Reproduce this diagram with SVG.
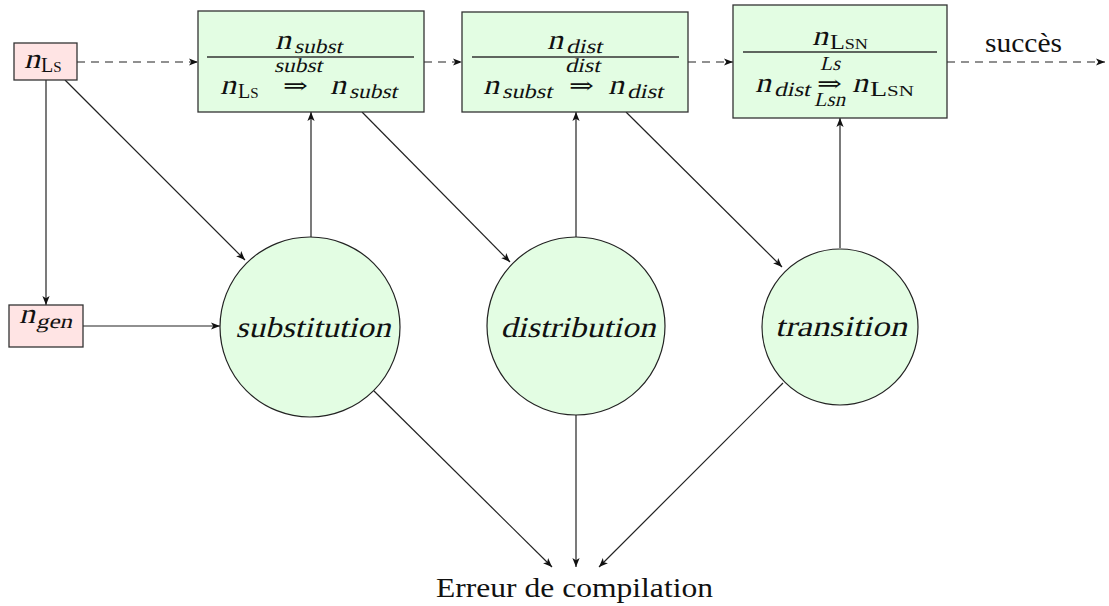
<svg xmlns="http://www.w3.org/2000/svg" width="1109" height="606" viewBox="0 0 1109 606">
<style>
.box{fill:#e3fde3;stroke:#333;stroke-width:1.3}
.pink{fill:#ffe4e4;stroke:#333;stroke-width:1.3}
.circ{fill:#e3fde3;stroke:#222;stroke-width:1.2}
.rule{stroke:#333;stroke-width:1.3}
.m{font-family:"Liberation Serif",serif;font-size:28px;fill:#111}
.s{font-family:"Liberation Serif",serif;font-size:20px;fill:#111}
.sc{font-family:"Liberation Serif",serif;font-size:20px;fill:#111}
.scs{font-family:"Liberation Serif",serif;font-size:15px;fill:#111}
.arr{font-family:"DejaVu Serif",serif;font-size:22px;fill:#111}
.t{font-family:"Liberation Serif",serif;font-size:27px;fill:#111}
.ci{font-family:"Liberation Serif",serif;font-size:29px;fill:#111}
.edge{stroke:#222;stroke-width:1.2;fill:none;marker-end:url(#ah)}
.dash{stroke:#222;stroke-width:1.2;fill:none;stroke-dasharray:8 6;marker-end:url(#ah)}
</style>
<defs>
<marker id="ah" viewBox="0 0 10 8" refX="10" refY="4" markerWidth="9" markerHeight="7.2" markerUnits="userSpaceOnUse" orient="auto">
<path d="M0,0 L10,4 L0,8 L2.5,4 z" fill="#111"/>
</marker>
</defs>
<rect width="1109" height="606" fill="#fff"/>

<g id="connectors">
<line class="dash" x1="77" y1="62" x2="198" y2="62"/>
<line class="dash" x1="424" y1="62" x2="462" y2="62"/>
<line class="dash" x1="688" y1="62" x2="733" y2="62"/>
<line class="dash" x1="947" y1="62" x2="1105" y2="62"/>
<line class="edge" x1="46" y1="80" x2="46" y2="305"/>
<line class="edge" x1="65" y1="80" x2="245" y2="260"/>
<line class="edge" x1="83" y1="326" x2="220" y2="326"/>
<line class="edge" x1="311" y1="237" x2="311" y2="112"/>
<line class="edge" x1="362" y1="112" x2="510" y2="262"/>
<line class="edge" x1="576" y1="237" x2="576" y2="112"/>
<line class="edge" x1="626" y1="112" x2="782" y2="267"/>
<line class="edge" x1="840" y1="248" x2="840" y2="118"/>
<line class="edge" x1="374" y1="391" x2="552" y2="567"/>
<line class="edge" x1="576" y1="415" x2="576" y2="567"/>
<line class="edge" x1="783" y1="383" x2="599" y2="567"/>
</g>

<g id="nLs">
<rect class="pink" x="14" y="43" width="63" height="37"/>
<text class="m" transform="translate(24,68) skewX(-14)" textLength="16" lengthAdjust="spacingAndGlyphs">n</text>
<text class="sc" x="41" y="72">L<tspan class="scs">S</tspan></text>
</g>

<g id="ngen">
<rect class="pink" x="9" y="305" width="74" height="42"/>
<text class="m" transform="translate(19,323) skewX(-14)" textLength="16" lengthAdjust="spacingAndGlyphs">n</text>
<text class="s" transform="translate(36,328) skewX(-14)" textLength="36" lengthAdjust="spacingAndGlyphs">gen</text>
</g>

<g id="box-subst">
<rect class="box" x="198" y="11" width="226" height="101"/>
<text class="m" transform="translate(275,49) skewX(-14)" textLength="16" lengthAdjust="spacingAndGlyphs">n</text>
<text class="s" transform="translate(294,53) skewX(-14)" textLength="48" lengthAdjust="spacingAndGlyphs">subst</text>
<line class="rule" x1="207" y1="57" x2="414" y2="57"/>
<text class="m" transform="translate(220,94) skewX(-14)" textLength="16" lengthAdjust="spacingAndGlyphs">n</text>
<text class="sc" x="238" y="98">L<tspan class="scs">S</tspan></text>
<text class="s" transform="translate(274,72) skewX(-14)" textLength="48" lengthAdjust="spacingAndGlyphs">subst</text>
<text class="arr" x="283" y="93" textLength="25" lengthAdjust="spacingAndGlyphs">⇒</text>
<text class="m" transform="translate(330,94) skewX(-14)" textLength="16" lengthAdjust="spacingAndGlyphs">n</text>
<text class="s" transform="translate(349,98) skewX(-14)" textLength="48" lengthAdjust="spacingAndGlyphs">subst</text>
</g>

<g id="box-dist">
<rect class="box" x="462" y="12" width="226" height="100"/>
<text class="m" transform="translate(547,49) skewX(-14)" textLength="16" lengthAdjust="spacingAndGlyphs">n</text>
<text class="s" transform="translate(566,53) skewX(-14)" textLength="36" lengthAdjust="spacingAndGlyphs">dist</text>
<line class="rule" x1="472" y1="57" x2="679" y2="57"/>
<text class="m" transform="translate(483,94) skewX(-14)" textLength="16" lengthAdjust="spacingAndGlyphs">n</text>
<text class="s" transform="translate(502,98) skewX(-14)" textLength="50" lengthAdjust="spacingAndGlyphs">subst</text>
<text class="s" transform="translate(565,72) skewX(-14)" textLength="35" lengthAdjust="spacingAndGlyphs">dist</text>
<text class="arr" x="569" y="93" textLength="25" lengthAdjust="spacingAndGlyphs">⇒</text>
<text class="m" transform="translate(608,94) skewX(-14)" textLength="16" lengthAdjust="spacingAndGlyphs">n</text>
<text class="s" transform="translate(627,98) skewX(-14)" textLength="36" lengthAdjust="spacingAndGlyphs">dist</text>
</g>

<g id="box-lsn">
<rect class="box" x="733" y="5" width="214" height="113"/>
<text class="m" transform="translate(812,45) skewX(-14)" textLength="16" lengthAdjust="spacingAndGlyphs">n</text>
<text class="sc" x="830" y="49" textLength="38" lengthAdjust="spacingAndGlyphs">L<tspan class="scs">SN</tspan></text>
<line class="rule" x1="743" y1="52" x2="937" y2="52"/>
<text class="m" transform="translate(755,92) skewX(-14)" textLength="16" lengthAdjust="spacingAndGlyphs">n</text>
<text class="s" transform="translate(774,96) skewX(-14)" textLength="36" lengthAdjust="spacingAndGlyphs">dist</text>
<text class="s" transform="translate(820,70) skewX(-14)" font-size="16" textLength="20" lengthAdjust="spacingAndGlyphs">Ls</text>
<text class="arr" x="817" y="91" textLength="25" lengthAdjust="spacingAndGlyphs">⇒</text>
<text class="s" transform="translate(814,106) skewX(-14)" font-size="16" textLength="31" lengthAdjust="spacingAndGlyphs">Lsn</text>
<text class="m" transform="translate(852,92) skewX(-14)" textLength="16" lengthAdjust="spacingAndGlyphs">n</text>
<text class="sc" x="870" y="96" textLength="44" lengthAdjust="spacingAndGlyphs">L<tspan class="scs">SN</tspan></text>
</g>

<g id="substitution">
<circle class="circ" cx="310" cy="327" r="90"/>
<text class="ci" transform="translate(313,337) skewX(-14)" text-anchor="middle" textLength="155" lengthAdjust="spacingAndGlyphs">substitution</text>
</g>

<g id="distribution">
<circle class="circ" cx="576" cy="326" r="89"/>
<text class="ci" transform="translate(578,337) skewX(-14)" text-anchor="middle" textLength="155" lengthAdjust="spacingAndGlyphs">distribution</text>
</g>

<g id="transition">
<circle class="circ" cx="840" cy="327" r="78"/>
<text class="ci" transform="translate(841,336) skewX(-14)" text-anchor="middle" textLength="132" lengthAdjust="spacingAndGlyphs">transition</text>
</g>

<g id="succes">
<text class="t" x="985" y="52" textLength="77" lengthAdjust="spacingAndGlyphs">succès</text>
</g>

<g id="erreur">
<text class="t" x="436" y="597" textLength="277" lengthAdjust="spacingAndGlyphs">Erreur de compilation</text>
</g>
</svg>
